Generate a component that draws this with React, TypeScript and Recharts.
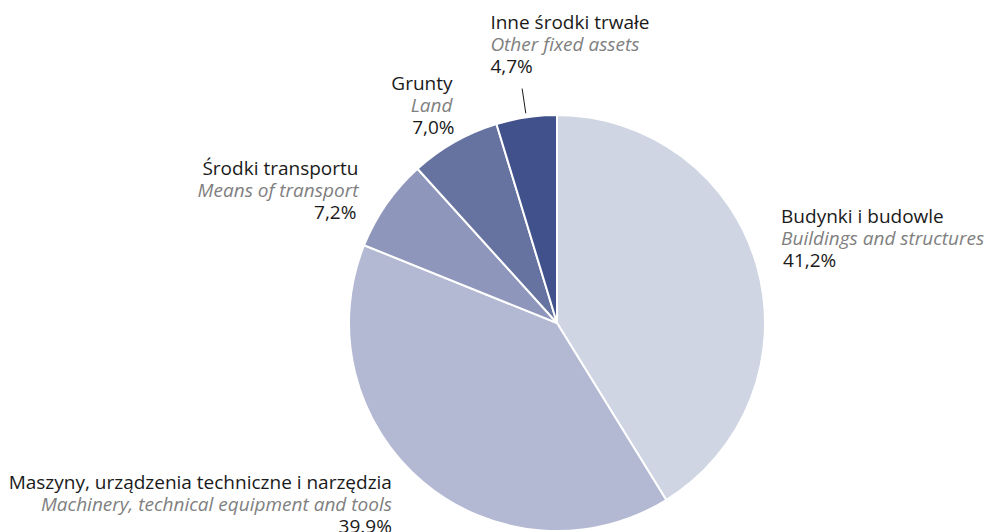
import { PieChart, Pie, Cell } from "recharts";

const namesPl = [
  "Budynki i budowle",
  "Maszyny, urządzenia techniczne i narzędzia",
  "Środki transportu",
  "Grunty",
  "Inne środki trwałe",
];
const namesEn = [
  "Buildings and structures",
  "Machinery, technical equipment and tools",
  "Means of transport",
  "Land",
  "Other fixed assets",
];
const shares = [41.2, 39.9, 7.2, 7.0, 4.7];
const shareLabels = ["41,2%", "39.9%", "7,2%", "7,0%", "4,7%"];

const COLORS = ["#cfd5e3", "#b3b8d3", "#8e97bb", "#6673a0", "#40518c"];

// label placement relative to the slice's outer point (style only)
const LAYOUT = [
  { dx: 24, dy: -50, anchor: "start", pctDx: 2 },
  { dx: -31, dy: 0, anchor: "end", pctDx: 0 },
  { dx: -28, dy: -36, anchor: "end", pctDx: -2 },
  { dx: -2, dy: -59, anchor: "end", pctDx: 2 },
  { dx: -36, dy: -95, anchor: "start", pctDx: 0, leader: true },
];

const data = namesPl.map((n, i) => ({
  name: n,
  en: namesEn[i],
  value: shares[i],
  pct: shareLabels[i],
}));

const RAD = Math.PI / 180;
const LINE = 22;
const FS = 19;

function renderLabel(props: any) {
  const { cx, cy, midAngle, outerRadius, index } = props;
  const cos = Math.cos(-midAngle * RAD);
  const sin = Math.sin(-midAngle * RAD);
  const ox = cx + outerRadius * cos;
  const oy = cy + outerRadius * sin;
  const l = LAYOUT[index];
  const x = ox + l.dx;
  const y = oy + l.dy;
  const d = data[index];
  return (
    <g key={`lbl-${index}`}>
      {l.leader && (
        <line
          x1={cx + (outerRadius + 4) * cos}
          y1={cy + (outerRadius + 4) * sin}
          x2={cx + (outerRadius + 29) * cos}
          y2={cy + (outerRadius + 29) * sin}
          stroke="#1a1a1a"
          strokeWidth={1}
        />
      )}
      <text x={x} y={y} textAnchor={l.anchor} dominantBaseline="central" fill="#1a1a1a" fontSize={FS}>
        {d.name}
      </text>
      <text
        x={x}
        y={y + LINE}
        textAnchor={l.anchor}
        dominantBaseline="central"
        fill="#808080"
        fontSize={FS}
        fontStyle="italic"
      >
        {d.en}
      </text>
      <text
        x={x + l.pctDx}
        y={y + LINE * 2}
        textAnchor={l.anchor}
        dominantBaseline="central"
        fill="#1a1a1a"
        fontSize={FS}
      >
        {d.pct}
      </text>
    </g>
  );
}

export default function App() {
  return (
    <div
      style={{
        position: "absolute",
        left: 0,
        top: 0,
        width: 987,
        height: 532,
        background: "#fff",
        fontFamily: "'Open Sans', sans-serif",
      }}
    >
      <PieChart width={987} height={532} margin={{ top: 0, right: 0, bottom: 0, left: 0 }}>
        <Pie
          data={data}
          dataKey="value"
          cx={557}
          cy={323}
          outerRadius={208}
          startAngle={90}
          endAngle={-270}
          stroke="#ffffff"
          strokeWidth={2}
          label={renderLabel}
          labelLine={false}
          isAnimationActive={false}
        >
          {data.map((_, i) => (
            <Cell key={i} fill={COLORS[i]} />
          ))}
        </Pie>
      </PieChart>
    </div>
  );
}
